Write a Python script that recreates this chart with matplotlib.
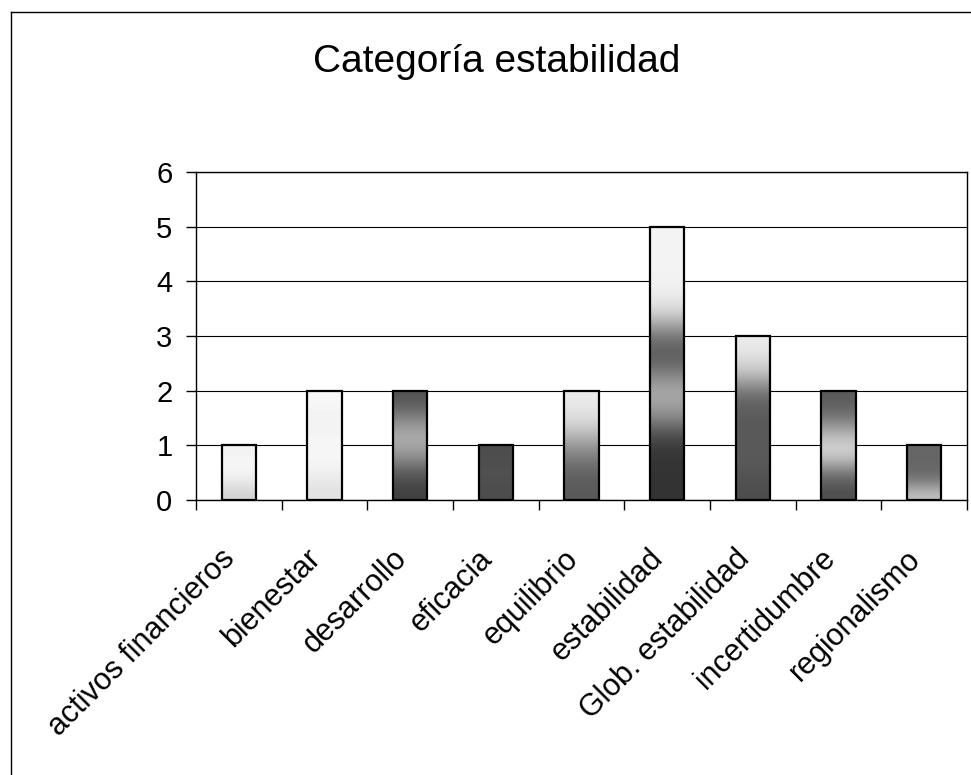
import matplotlib
matplotlib.use("Agg")
import matplotlib.pyplot as plt
import matplotlib.transforms as mtransforms
from matplotlib.lines import Line2D
import numpy as np

plt.rcParams["font.family"] = ["Liberation Sans", "DejaVu Sans"]

# Data
categories = ["activos financieros", "bienestar", "desarrollo", "eficacia",
              "equilibrio", "estabilidad", "Glob. estabilidad",
              "incertidumbre", "regionalismo"]
counts = [1, 2, 2, 1, 2, 5, 3, 2, 1]
yticks = [0, 1, 2, 3, 4, 5, 6]

# gray levels inside each bar, bottom -> top (scanned gradient look)
bar_shades = [
    [0.82, 0.93, 0.97, 0.95],
    [0.88, 0.96, 0.97, 0.94, 0.97],
    [0.25, 0.35, 0.6, 0.7, 0.5, 0.32],
    [0.3, 0.32, 0.3],
    [0.35, 0.4, 0.6, 0.85, 0.92],
    [0.2, 0.2, 0.25, 0.6, 0.7, 0.35, 0.4, 0.85, 0.95, 0.95, 0.95],
    [0.3, 0.35, 0.35, 0.35, 0.4, 0.8, 0.92],
    [0.3, 0.45, 0.85, 0.75, 0.45, 0.35],
    [0.75, 0.45, 0.4, 0.4],
]

W, H = 971, 775
fig = plt.figure(figsize=(W / 100, H / 100), dpi=100)
ax = fig.add_axes([196 / W, 1 - 500 / H, (967 - 196) / W, (500 - 172) / H])

x = np.arange(len(categories)) + 0.5
bars = ax.bar(x, counts, width=0.4, facecolor="none", edgecolor="black",
              linewidth=1.6, zorder=3)

# gradient fill for each bar
for bar, shades in zip(bars, bar_shades):
    x0, w, h = bar.get_x(), bar.get_width(), bar.get_height()
    ax.imshow(np.array(shades)[:, None], cmap="gray", vmin=0, vmax=1,
              extent=[x0, x0 + w, 0, h], origin="lower", aspect="auto",
              interpolation="bicubic", zorder=2)

ax.set_xlim(0, len(categories))
ax.set_ylim(0, 6)

# gridlines
ax.yaxis.grid(True, color="black", linewidth=0.8)
ax.set_axisbelow(True)

for s in ax.spines.values():
    s.set_color("black")
    s.set_linewidth(1)

# ticks
ax.set_yticks(yticks)
ax.tick_params(axis="y", direction="out", length=7, width=1,
               labelsize=21, pad=10, colors="black")
ax.set_xticks(np.arange(len(categories) + 1))
ax.set_xticklabels([])
ax.tick_params(axis="x", which="major", direction="out", length=7, width=1)
ax.set_xticks(x, categories, minor=True)
ax.tick_params(axis="x", which="minor", length=0, pad=39, labelsize=22)
shift = mtransforms.ScaledTranslation(-8 / 100, 0, fig.dpi_scale_trans)
for lab in ax.get_xticklabels(minor=True):
    lab.set_rotation(45)
    lab.set_ha("right")
    lab.set_va("center")
    lab.set_rotation_mode("anchor")
    lab.set_transform(lab.get_transform() + shift)

# title
fig.text(497 / W, 1 - 72 / H, "Categoría estabilidad", fontsize=28,
         ha="center", va="baseline", color="black")

# chart border (left and top edges visible)
fig.add_artist(Line2D([11 / W, 11 / W], [0, 1 - 12 / H], color="black", lw=1))
fig.add_artist(Line2D([11 / W, 1], [1 - 12 / H, 1 - 12 / H], color="black", lw=1))

fig.savefig("out.png", dpi=100, facecolor="white")
